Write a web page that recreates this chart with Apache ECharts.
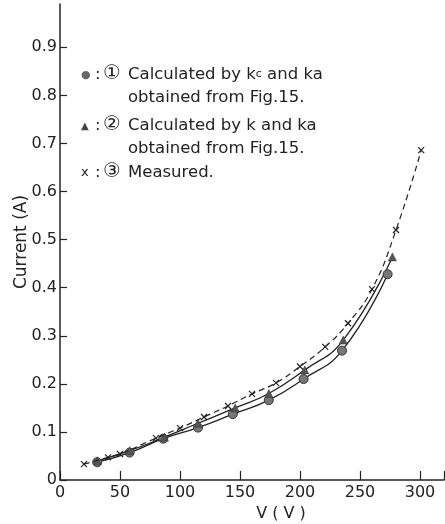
<!DOCTYPE html>
<html>
<head>
<meta charset="utf-8">
<script src="https://cdn.jsdelivr.net/npm/echarts@6/dist/echarts.min.js"></script>
<style>html,body{margin:0;padding:0;background:#fff}#c{width:445px;height:524px}</style>
</head>
<body>
<div id="c"></div>
<script>
// Series ① Calculated by kc and ka (circles)
const calc1V = [31, 58, 86, 115, 144, 174, 203, 235, 273];
const calc1I = [0.037, 0.057, 0.086, 0.109, 0.137, 0.166, 0.210, 0.269, 0.428];
// Series ② Calculated by k and ka (triangles)
const calc2V = [31, 58, 87, 115, 146, 174, 204, 236, 277];
const calc2I = [0.040, 0.061, 0.089, 0.118, 0.150, 0.180, 0.229, 0.291, 0.464];
// Series ③ Measured (crosses)
const measV = [20, 40, 50, 80, 100, 120, 140, 160, 180, 200, 221, 240, 260, 280, 301];
const measI = [0.033, 0.047, 0.054, 0.087, 0.108, 0.131, 0.154, 0.179, 0.202, 0.236, 0.277, 0.326, 0.397, 0.520, 0.686];
// Axis ticks
const xTicks = [0, 50, 100, 150, 200, 250, 300];
const yTicks = [0, 0.1, 0.2, 0.3, 0.4, 0.5, 0.6, 0.7, 0.8, 0.9];

const pairs = (a, b) => a.map((v, i) => [v, b[i]]);
const FONT = 'DejaVu Sans';
const crossPath = 'path://M0,0L10,10M10,0L0,10';
const LF = '16.5px DejaVu Sans';
const NF = '20px DejaVu Sans';

const chart = echarts.init(document.getElementById('c'));
chart.setOption({
  backgroundColor: '#fff',
  animation: false,
  grid: { left: 60, right: 1, top: 4, bottom: 44, containLabel: false, outerBoundsMode: 'none' },
  xAxis: {
    type: 'value', min: 0, max: 320, interval: 50,
    name: 'V ( V )', nameLocation: 'middle', nameGap: 26, nameMoveOverlap: false,
    nameTextStyle: { fontFamily: FONT, fontSize: 16, color: '#222', padding: [0, 0, 0, 58] },
    axisLine: { lineStyle: { color: '#222', width: 1.5 } },
    axisTick: { inside: true, length: 9, lineStyle: { color: '#222', width: 1.2 } },
    axisLabel: { fontFamily: FONT, fontSize: 16, color: '#222', margin: 5,
      formatter: v => xTicks.includes(v) ? String(v) : '' },
    splitLine: { show: false }
  },
  yAxis: {
    type: 'value', min: 0, max: 0.99, interval: 0.1,
    name: 'Current (A)', nameLocation: 'middle', nameGap: 30, nameMoveOverlap: false,
    nameTextStyle: { fontFamily: FONT, fontSize: 17, color: '#222' },
    axisLine: { lineStyle: { color: '#222', width: 1.5 } },
    axisTick: { inside: true, length: 7, lineStyle: { color: '#222', width: 1.2 } },
    axisLabel: { fontFamily: FONT, fontSize: 16, color: '#222', margin: 3, showMaxLabel: false,
      formatter: v => { const r = Math.round(v * 10) / 10; return yTicks.some(t => Math.abs(t - v) < 1e-6) ? (r === 0 ? '0' : r.toFixed(1)) : ''; } },
    splitLine: { show: false }
  },
  series: [
    {
      name: '① Calculated by kc and ka', type: 'line', smooth: 0.5,
      data: pairs(calc1V, calc1I),
      symbol: 'circle', symbolSize: 9,
      itemStyle: { color: '#777', borderColor: '#333', borderWidth: 1 },
      lineStyle: { color: '#222', width: 1.3 }, z: 3
    },
    {
      name: '② Calculated by k and ka', type: 'line', smooth: 0.5,
      data: pairs(calc2V, calc2I),
      symbol: 'triangle', symbolSize: 8,
      itemStyle: { color: '#555', borderColor: '#333', borderWidth: 0.5 },
      lineStyle: { color: '#222', width: 1.3 }, z: 3
    },
    {
      name: '③ Measured', type: 'line', smooth: 0.5,
      data: pairs(measV, measI),
      symbol: crossPath, symbolSize: 6,
      itemStyle: { color: 'none', borderColor: '#222', borderWidth: 1.2 },
      lineStyle: { color: '#222', width: 1.2, type: [6, 4] }, z: 4
    }
  ],
  graphic: [
    { type: 'text', left: 81, top: 70, style: { text: '●', font: '11px DejaVu Sans', fill: '#666' } },
    { type: 'text', left: 95, top: 66, style: { text: ':', font: LF, fill: '#222' } },
    { type: 'text', left: 103, top: 64, style: { text: '①', font: NF, fill: '#222' } },
    { type: 'text', left: 128, top: 66, style: {
        text: '{t|Calculated by k}{s|c}{t| and ka}',
        rich: { t: { font: LF, fill: '#222' }, s: { font: '11px DejaVu Sans', fill: '#222' } } } },
    { type: 'text', left: 128, top: 89, style: { text: 'obtained from Fig.15.', font: LF, fill: '#222' } },
    { type: 'text', left: 81, top: 121, style: { text: '▲', font: '10px DejaVu Sans', fill: '#444' } },
    { type: 'text', left: 95, top: 117, style: { text: ':', font: LF, fill: '#222' } },
    { type: 'text', left: 103, top: 115, style: { text: '②', font: NF, fill: '#222' } },
    { type: 'text', left: 128, top: 117, style: { text: 'Calculated by k and ka', font: LF, fill: '#222' } },
    { type: 'text', left: 128, top: 140, style: { text: 'obtained from Fig.15.', font: LF, fill: '#222' } },
    { type: 'text', left: 81, top: 166, style: { text: 'x', font: '13px DejaVu Sans', fill: '#222' } },
    { type: 'text', left: 95, top: 164, style: { text: ':', font: LF, fill: '#222' } },
    { type: 'text', left: 103, top: 162, style: { text: '③', font: NF, fill: '#222' } },
    { type: 'text', left: 128, top: 164, style: { text: 'Measured.', font: LF, fill: '#222' } }
  ]
});
</script>
</body>
</html>
